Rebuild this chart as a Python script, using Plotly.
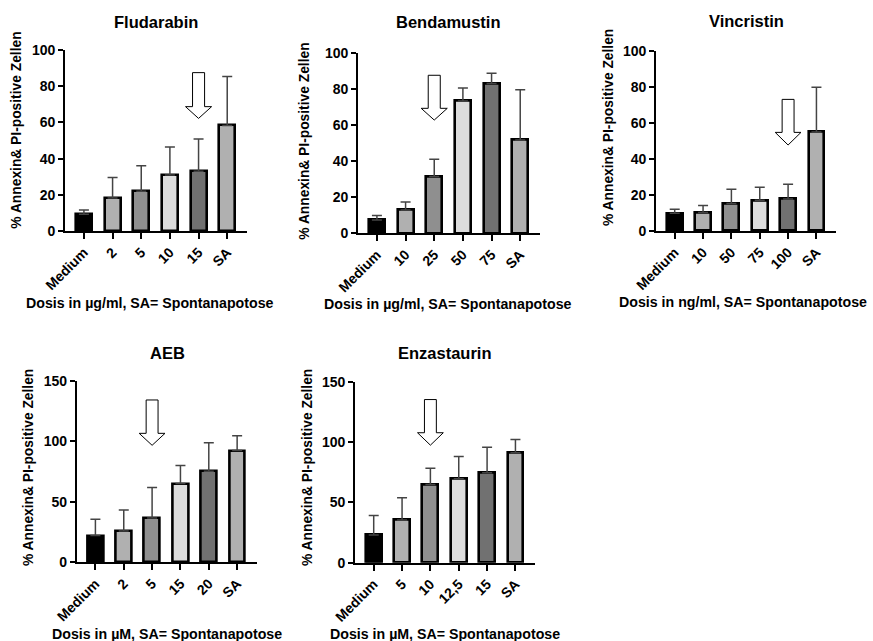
import plotly.graph_objects as go

# ---------------- data ----------------
titles = ["Fludarabin", "Bendamustin", "Vincristin", "AEB", "Enzastaurin"]
x_titles = ["Dosis in µg/ml, SA= Spontanapotose",
            "Dosis in µg/ml, SA= Spontanapotose",
            "Dosis in ng/ml, SA= Spontanapotose",
            "Dosis in µM, SA= Spontanapotose",
            "Dosis in µM, SA= Spontanapotose"]
y_title = "% Annexin& PI-positive Zellen"

fluda_cats = ["Medium", "2", "5", "10", "15", "SA"]
fluda_mean = [9.3, 18.3, 22.0, 31.0, 33.0, 58.3]
fluda_sd = [2.3, 11.2, 14.1, 15.4, 17.8, 27.0]

benda_cats = ["Medium", "10", "25", "50", "75", "SA"]
benda_mean = [7.4, 12.9, 31.4, 73.2, 83.0, 51.7]
benda_sd = [2.4, 4.4, 9.6, 7.2, 5.6, 27.8]

vinc_cats = ["Medium", "10", "50", "75", "100", "SA"]
vinc_mean = [9.8, 10.2, 15.3, 17.0, 17.7, 54.9]
vinc_sd = [2.2, 4.0, 7.8, 7.2, 8.2, 24.8]

aeb_cats = ["Medium", "2", "5", "15", "20", "SA"]
aeb_mean = [22.1, 25.9, 36.7, 65.1, 75.3, 92.4]
aeb_sd = [13.5, 17.4, 25.1, 14.9, 23.7, 12.4]

enza_cats = ["Medium", "5", "10", "12,5", "15", "SA"]
enza_mean = [22.9, 35.4, 64.9, 69.6, 74.6, 91.2]
enza_sd = [16.3, 18.5, 13.3, 18.5, 21.0, 11.0]

y_max = [100, 100, 100, 150, 150]
y_step = [20, 20, 20, 50, 50]

# arrow marker: category index, top, head start, tip (data units)
arrow_idx = [4, 2, 4, 2, 2]
arrow_top = [87.5, 87.5, 73.0, 134.3, 135.2]
arrow_head = [68.7, 69.2, 54.7, 106.7, 107.7]
arrow_tip = [62.2, 62.7, 47.7, 96.8, 97.4]

# ---------------- styling / layout ----------------
W, H = 873, 641
bar_colors = ["#000000", "#b0b0b0", "#8f8f8f", "#dcdcdc", "#717171", "#b0b0b0"]
FONT = "Liberation Sans, Arial, Helvetica, sans-serif"

# panel pixel boxes: left, right, top, bottom(y=0)
boxes = [(65, 247, 50, 231), (358, 540, 52.7, 233.3), (656, 836, 50.7, 231),
         (76.7, 256.7, 381, 562.3), (355, 535, 381.7, 562.7)]
title_pos = [(156, 22), (449, 22), (746, 21), (167, 353), (445, 353)]
xt_pos = [(150, 302.7), (448, 304), (743, 301.7), (167, 634), (445, 634)]
yt_pos = [(16.7, 130), (305, 141.7), (608, 128), (28, 468), (307, 468)]

cats_all = [fluda_cats, benda_cats, vinc_cats, aeb_cats, enza_cats]
mean_all = [fluda_mean, benda_mean, vinc_mean, aeb_mean, enza_mean]
sd_all = [fluda_sd, benda_sd, vinc_sd, aeb_sd, enza_sd]


def px(x):
    return x / W


def py(y):
    return 1 - y / H


fig = go.Figure()
layout = dict(width=W, height=H, autosize=False,
              margin=dict(l=0, r=0, t=0, b=0, pad=0, autoexpand=False),
              paper_bgcolor="white", plot_bgcolor="white",
              showlegend=False, bargap=0,
              font=dict(family=FONT, color="black"))
annotations = []
shapes = []

for i in range(5):
    n = i + 1
    xa = "x" if n == 1 else f"x{n}"
    ya = "y" if n == 1 else f"y{n}"
    cats = cats_all[i]
    xs = list(range(len(cats)))
    fig.add_trace(go.Bar(
        x=xs, y=mean_all[i], xaxis=xa, yaxis=ya, width=0.56,
        marker=dict(color=bar_colors, line=dict(color="black", width=2.6)),
        error_y=dict(type="data", array=sd_all[i], arrayminus=[0] * len(cats),
                     symmetric=False, color="#444444", thickness=1.5, width=5),
    ))
    l, r, t, b = boxes[i]
    layout["xaxis" if n == 1 else f"xaxis{n}"] = dict(
        domain=[px(l), px(r)], anchor=ya, range=[-0.66, 5.69], automargin=False,
        tickmode="array", tickvals=xs, ticktext=cats, tickangle=-45,
        showline=True, linecolor="black", linewidth=1.6,
        ticks="outside", ticklen=6, tickwidth=1.6, tickcolor="black",
        showgrid=False, zeroline=False, fixedrange=True,
        tickfont=dict(family=FONT, size=14, color="black", weight="bold"))
    layout["yaxis" if n == 1 else f"yaxis{n}"] = dict(
        domain=[py(b), py(t)], anchor=xa, range=[0, y_max[i]], automargin=False,
        tickmode="linear", tick0=0, dtick=y_step[i],
        showline=True, linecolor="black", linewidth=1.6,
        ticks="outside", ticklen=5, tickwidth=1.6, tickcolor="black",
        showgrid=False, zeroline=False, fixedrange=True,
        tickfont=dict(family=FONT, size=14, color="black", weight="bold"))

    # arrow
    c = arrow_idx[i]
    sw, hw = 0.21, 0.455
    path = (f"M {c - sw} {arrow_top[i]} L {c + sw} {arrow_top[i]} "
            f"L {c + sw} {arrow_head[i]} L {c + hw} {arrow_head[i]} "
            f"L {c} {arrow_tip[i]} L {c - hw} {arrow_head[i]} "
            f"L {c - sw} {arrow_head[i]} Z")
    shapes.append(dict(type="path", path=path, xref=xa, yref=ya,
                       fillcolor="white", line=dict(color="black", width=1)))

    tx, ty = title_pos[i]
    annotations.append(dict(text=titles[i], x=px(tx), y=py(ty), xref="paper", yref="paper",
                            showarrow=False, xanchor="center", yanchor="middle",
                            font=dict(family=FONT, size=16.5, color="black", weight="bold")))
    xx, xy = xt_pos[i]
    annotations.append(dict(text=x_titles[i], x=px(xx), y=py(xy), xref="paper", yref="paper",
                            showarrow=False, xanchor="center", yanchor="middle",
                            font=dict(family=FONT, size=14.2, color="black", weight="bold")))
    yx, yy = yt_pos[i]
    annotations.append(dict(text=y_title, x=px(yx), y=py(yy), xref="paper", yref="paper",
                            showarrow=False, xanchor="center", yanchor="middle", textangle=-90,
                            font=dict(family=FONT, size=13.8, color="black", weight="bold")))

layout["annotations"] = annotations
layout["shapes"] = shapes
fig.update_layout(**layout)
fig.write_html("out.html")
